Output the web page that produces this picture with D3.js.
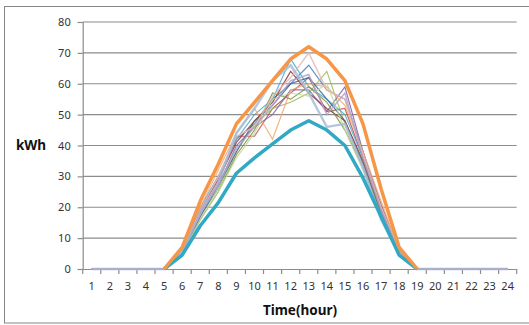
<html>
<script src="https://d3js.org/d3.v7.min.js"></script>
<style>
  body { margin: 0; background: #fff; }
  text { font-family: "Noto Sans", "DejaVu Sans", sans-serif; }
</style>
<body>
<svg width="529" height="325"></svg>
<script>
// hours on the x axis
var hours = d3.range(1, 25);
var yTicks = [0, 10, 20, 30, 40, 50, 60, 70, 80];

// envelope series, only plotted from hour 5 to hour 19
var upper = [null,null,null,null,0,7,22,34,47,54,61,68,72,68,61,47,26,7,0,null,null,null,null,null];
var lower = [null,null,null,null,0,4.5,14,21.5,31,36,40.5,45,48,45,40,29.5,17,4.5,0,null,null,null,null,null];

// daily values for hours 1..24
var day1  = [0,0,0,0,0,6,19,30,42,47,55,60,66,58,55,38,20,6,0,0,0,0,0,0];
var day2  = [0,0,0,0,0,6,18,28,43,43,52,57,62,51,52,36,20,6,0,0,0,0,0,0];
var day3  = [0,0,0,0,0,5,17,26,38,47,52,54,57,64,47,34,18,5,0,0,0,0,0,0];
var day4  = [0,0,0,0,0,6,18,27,40,46,50,58,58,51,59,38,21,6,0,0,0,0,0,0];
var day5  = [0,0,0,0,0,6,20,30,42,50,55,68,59,55,50,36,20,6,0,0,0,0,0,0];
var day6  = [0,0,0,0,0,6,20,32,44,52,42,58,60,59,53,38,22,6,0,0,0,0,0,0];
var day7  = [0,0,0,0,0,5,17,27,38,48,53,60,62,55,48,34,18,5,0,0,0,0,0,0];
var day8  = [0,0,0,0,0,6,19,29,41,48,54,64,57,52,48,35,19,6,0,0,0,0,0,0];
var day9  = [0,0,0,0,0,5,16,25,37,45,57,55,59,54,45,33,18,5,0,0,0,0,0,0];
var day10 = [0,0,0,0,0,6,18,28,44,52,61,66,57,46,47,33,16,5,0,0,0,0,0,0];
var day11 = [0,0,0,0,0,6,19,30,43,46,56,62,70,58,55,37,20,6,0,0,0,0,0,0];
var day12 = [0,0,0,0,0,5,18,27,39,46,53,61,63,50,57,36,19,5,0,0,0,0,0,0];
var day13 = [0,0,0,0,0,5,16,25,36,44,55,57,56,60,45,32,17,5,0,0,0,0,0,0];

var thin = [
  {v: day1,  c: "#4F81BD", w: 1.2},
  {v: day2,  c: "#C0504D", w: 1.2},
  {v: day3,  c: "#9BBB59", w: 1.2},
  {v: day4,  c: "#8064A2", w: 1.2},
  {v: day5,  c: "#4BACC6", w: 1.2},
  {v: day6,  c: "#F4A870", w: 1.2},
  {v: day7,  c: "#3C6496", w: 1.2},
  {v: day8,  c: "#943634", w: 1.2},
  {v: day9,  c: "#76923C", w: 1.2},
  {v: day11, c: "#E6B9B8", w: 1.5},
  {v: day13, c: "#C3D69B", w: 1.2},
  {v: day10, c: "#A6BDDB", w: 2.5},
  {v: day12, c: "#B3A2C7", w: 1.4}
];

var svg = d3.select("svg");

// outer chart frame
svg.append("rect")
  .attr("x", 4.5).attr("y", 6.5)
  .attr("width", 540).attr("height", 316.5)
  .attr("fill", "none").attr("stroke", "#868686").attr("stroke-width", 1);

var x = d3.scaleBand().domain(hours).range([82.7, 516.7]);
var y = d3.scaleLinear().domain([0, 80]).range([269, 22]);

// gridlines
svg.append("g")
  .selectAll("line")
  .data(yTicks.slice(1))
  .enter().append("line")
  .attr("x1", 82.7).attr("x2", 516.7)
  .attr("y1", function(d){ return y(d); })
  .attr("y2", function(d){ return y(d); })
  .attr("stroke", "#8c8c8c").attr("stroke-width", 1.2);

// y axis
var yAxis = svg.append("g").attr("transform", "translate(82.7,0)")
  .call(d3.axisLeft(y).tickValues(yTicks).tickSize(5).tickPadding(7));
yAxis.selectAll("line, path").attr("stroke", "#8c8c8c").attr("stroke-width", 1.2);
yAxis.selectAll("text").attr("fill", "#333").style("font-size", "11px");

// x axis
var xAxis = svg.append("g").attr("transform", "translate(0,269)")
  .call(d3.axisBottom(x).tickSize(0).tickPadding(13));
xAxis.select("path").attr("stroke", "#8c8c8c").attr("stroke-width", 1.2);
xAxis.selectAll("text").attr("fill", "#333").style("font-size", "11px");

// tick marks between categories
svg.append("g")
  .selectAll("line")
  .data(d3.range(0, 25))
  .enter().append("line")
  .attr("x1", function(i){ return 82.7 + i * x.step(); })
  .attr("x2", function(i){ return 82.7 + i * x.step(); })
  .attr("y1", 269).attr("y2", 274)
  .attr("stroke", "#8c8c8c").attr("stroke-width", 1.2);

var line = d3.line()
  .defined(function(d){ return d !== null; })
  .x(function(d, i){ return x(hours[i]) + x.bandwidth() / 2; })
  .y(function(d){ return y(d); });

svg.append("g")
  .selectAll("path")
  .data(thin)
  .enter().append("path")
  .attr("d", function(s){ return line(s.v); })
  .attr("fill", "none")
  .attr("stroke", function(s){ return s.c; })
  .attr("stroke-width", function(s){ return s.w; })
  .attr("stroke-opacity", 0.85);

svg.append("path")
  .attr("d", line(lower))
  .attr("fill", "none").attr("stroke", "#31A8C4").attr("stroke-width", 3.5)
  .attr("stroke-linejoin", "round");

svg.append("path")
  .attr("d", line(upper))
  .attr("fill", "none").attr("stroke", "#F79646").attr("stroke-width", 3.5)
  .attr("stroke-linejoin", "round");

// axis titles
svg.append("text")
  .attr("x", 31).attr("y", 150)
  .attr("text-anchor", "middle")
  .style("font-size", "13.5px").style("font-weight", "bold")
  .attr("fill", "#111")
  .text("kWh");

svg.append("text")
  .attr("x", 300).attr("y", 315)
  .attr("text-anchor", "middle")
  .style("font-size", "13.5px").style("font-weight", "bold")
  .attr("fill", "#111")
  .text("Time(hour)");
</script>
</body>
</html>
